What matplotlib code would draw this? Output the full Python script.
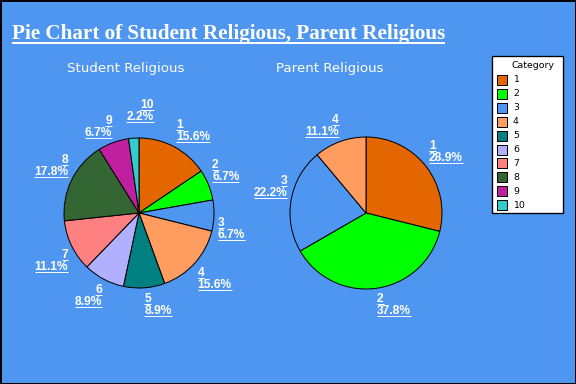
import numpy as np
import matplotlib
matplotlib.use("Agg")
import matplotlib.pyplot as plt
from matplotlib.patches import Rectangle

categories = ['1', '2', '3', '4', '5', '6', '7', '8', '9', '10']
student_counts = [7, 3, 3, 7, 4, 4, 5, 8, 3, 1]
parent_counts = [13, 17, 10, 5]
colors = ['#E46600', '#00FF00', '#4F96F0', '#FF9D60', '#008080',
          '#B0B0FF', '#FF8080', '#336633', '#C020A0', '#33CCCC']

BG = '#4F96F0'
W, H = 576, 384

fig = plt.figure(figsize=(W / 96, H / 96), dpi=96)
fig.patch.set_facecolor(BG)
fig.patch.set_edgecolor('black')
fig.patch.set_linewidth(2)
ax = fig.add_axes([0, 0, 1, 1])
ax.set_facecolor('none')
renderer = fig.canvas.get_renderer()


def fix_limits():
    ax.set_xlim(0, W)
    ax.set_ylim(0, H)
    ax.set_aspect('auto')
    ax.axis('off')


def underlined(x, y, s, ha, size, family, weight, lw, gap):
    t = ax.text(x, y, s, ha=ha, va='baseline', color='white', fontsize=size,
                family=family, weight=weight)
    bb = t.get_window_extent(renderer)
    ax.plot([bb.x0, bb.x1], [y - gap, y - gap], color='white', lw=lw,
            solid_capstyle='butt')


def draw_pie(counts, cx, cy, r, nudge=None):
    nudge = nudge or {}
    total = sum(counts)
    wedges, _ = ax.pie(counts, colors=colors[:len(counts)], startangle=90,
                       counterclock=False, center=(cx, H - cy), radius=r,
                       wedgeprops=dict(edgecolor='black', linewidth=0.75))
    fix_limits()
    for i, (w, cat, c) in enumerate(zip(wedges, categories, counts)):
        mid = np.deg2rad((w.theta1 + w.theta2) / 2)
        dx, dy = nudge.get(i, (0, 0))
        lx = cx + 1.05 * r * np.cos(mid) + dx
        ly = H - cy + 1.05 * r * np.sin(mid) + dy
        ha = 'left' if np.cos(mid) > 0.01 else 'right'
        lines = [cat, '%.1f%%' % (100.0 * c / total)]
        if np.sin(mid) > 0:
            bases = [ly + 15, ly + 3]
        else:
            bases = [ly - 10, ly - 22]
        for s, b in zip(lines, bases):
            underlined(lx, b, s, ha, 9, 'Liberation Sans', 'bold', 0.75, 2)


draw_pie(student_counts, 139, 213, 75, nudge={9: (20, 11)})
draw_pie(parent_counts, 366, 213, 76)
fix_limits()

# title
underlined(12, H - 39, 'Pie Chart of Student Religious, Parent Religious',
           'left', 15.8, 'Liberation Serif', 'bold', 1.5, 4)
ax.text(126, H - 72, 'Student Religious', ha='center', va='baseline',
        color='white', fontsize=10, family='DejaVu Sans')
ax.text(330, H - 72, 'Parent Religious', ha='center', va='baseline',
        color='white', fontsize=10, family='DejaVu Sans')

# legend
ax.add_patch(Rectangle((492, H - 213), 71, 157, facecolor='white',
                       edgecolor='black', linewidth=1))
ax.text(533, H - 66, 'Category', ha='center', va='center', fontsize=7,
        family='DejaVu Sans', color='black')
for i, (cat, col) in enumerate(zip(categories, colors)):
    yc = H - (80 + i * 13.9)
    ax.add_patch(Rectangle((497, yc - 5), 10, 10, facecolor=col,
                           edgecolor='black', linewidth=0.75))
    ax.text(513, yc, cat, ha='left', va='center', fontsize=7,
            family='DejaVu Sans', color='black')

fig.savefig('out.png', dpi=96, facecolor=fig.get_facecolor(),
            edgecolor='black')
